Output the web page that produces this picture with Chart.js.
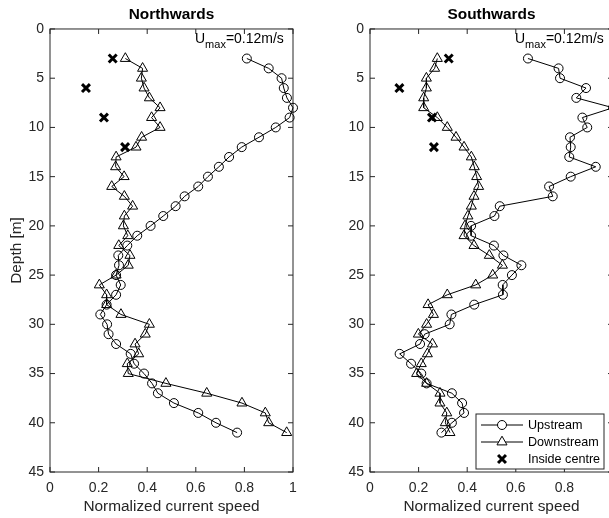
<!DOCTYPE html>
<html>
<head>
<meta charset="utf-8">
<script src="https://cdn.jsdelivr.net/npm/chart.js@4.4.1/dist/chart.umd.min.js"></script>
<style>
  html, body { margin: 0; padding: 0; background: #fff; overflow: hidden; }
  #wrap { position: relative; width: 609px; height: 518px; overflow: hidden; }
  .panel { position: absolute; top: 0; width: 320px; height: 518px; }
</style>
</head>
<body>
<div id="wrap">
  <div class="panel" style="left:0"><canvas id="north" width="320" height="518"></canvas></div>
  <div class="panel" style="left:320px"><canvas id="south" width="320" height="518"></canvas></div>
</div>
<script>
// measurement depths (m) of the up/downstream profiles
const depths = [3, 4, 5, 6, 7, 8, 9, 10, 11, 12, 13, 14, 15, 16, 17, 18, 19, 20, 21, 22,
  23, 24, 25, 26, 27, 28, 29, 30, 31, 32, 33, 34, 35, 36, 37, 38, 39, 40, 41];
const centreDepths = [3, 6, 9, 12];

// normalized speeds, northward flow
const northUp = [0.81, 0.90, 0.953, 0.962, 0.975, 1.0, 0.986, 0.929, 0.86, 0.789,
  0.737, 0.695, 0.65, 0.61, 0.554, 0.517, 0.466, 0.414, 0.359, 0.318,
  0.281, 0.284, 0.272, 0.291, 0.272, 0.233, 0.207, 0.235, 0.241, 0.272,
  0.332, 0.346, 0.387, 0.42, 0.444, 0.51, 0.61, 0.683, 0.77];
const northDown = [0.31, 0.381, 0.376, 0.387, 0.409, 0.453, 0.418, 0.453, 0.377, 0.354,
  0.272, 0.27, 0.305, 0.254, 0.306, 0.34, 0.306, 0.302, 0.32, 0.283,
  0.329, 0.322, 0.272, 0.203, 0.233, 0.233, 0.292, 0.409, 0.392, 0.35,
  0.365, 0.318, 0.322, 0.477, 0.645, 0.79, 0.886, 0.9, 0.974];
const northCentre = [0.258, 0.148, 0.222, 0.309];

// normalized speeds, southward flow
const southUp = [0.65, 0.776, 0.782, 0.889, 0.849, 1.0, 0.874, 0.894, 0.823, 0.826,
  0.82, 0.929, 0.826, 0.737, 0.752, 0.534, 0.512, 0.416, 0.416, 0.51,
  0.549, 0.623, 0.584, 0.546, 0.547, 0.429, 0.335, 0.328, 0.225, 0.206,
  0.122, 0.169, 0.211, 0.233, 0.337, 0.379, 0.387, 0.337, 0.294];
const southDown = [0.277, 0.266, 0.232, 0.232, 0.221, 0.221, 0.277, 0.318, 0.354, 0.387,
  0.417, 0.429, 0.439, 0.447, 0.428, 0.417, 0.403, 0.391, 0.387, 0.428,
  0.491, 0.545, 0.505, 0.435, 0.318, 0.239, 0.261, 0.233, 0.199, 0.257,
  0.236, 0.211, 0.192, 0.233, 0.288, 0.288, 0.316, 0.31, 0.329];
const southCentre = [0.324, 0.121, 0.255, 0.263];

const FONT = "'Liberation Sans', Arial, Helvetica, sans-serif";
Chart.defaults.font.family = FONT;
const AXIS = '#262626';

// boxed axes with inward ticks on all four sides
const frame = {
  id: 'frame',
  beforeDatasetsDraw(chart) {
    const { ctx, chartArea: a, scales: { x, y } } = chart;
    ctx.save();
    ctx.strokeStyle = AXIS;
    ctx.lineWidth = 1;
    ctx.strokeRect(a.left, a.top, a.right - a.left, a.bottom - a.top);
    ctx.beginPath();
    x.ticks.forEach(t => {
      const p = x.getPixelForValue(t.value);
      ctx.moveTo(p, a.bottom); ctx.lineTo(p, a.bottom - 5);
      ctx.moveTo(p, a.top); ctx.lineTo(p, a.top + 5);
    });
    y.ticks.forEach(t => {
      const p = y.getPixelForValue(t.value);
      ctx.moveTo(a.left, p); ctx.lineTo(a.left + 5, p);
      ctx.moveTo(a.right, p); ctx.lineTo(a.right - 5, p);
    });
    ctx.stroke();
    ctx.restore();
  }
};

// "U_max=0.12m/s" in the top right corner
const umaxNote = {
  id: 'umaxNote',
  afterDraw(chart) {
    const { ctx, chartArea: a } = chart;
    let x = a.right - 98;
    const base = a.top + 14;
    ctx.save();
    ctx.fillStyle = '#000';
    ctx.textBaseline = 'alphabetic';
    ctx.font = '14px ' + FONT;
    ctx.fillText('U', x, base);
    x += ctx.measureText('U').width;
    ctx.font = '11px ' + FONT;
    ctx.fillText('max', x, base + 5);
    x += ctx.measureText('max').width;
    ctx.font = '14px ' + FONT;
    ctx.fillText('=0.12m/s', x, base);
    ctx.restore();
  }
};

// legend box inside the lower right of the plot
const boxLegend = {
  id: 'boxLegend',
  afterDraw(chart, args, opts) {
    if (!opts.show) return;
    const { ctx, chartArea: a } = chart;
    const w = 128, h = 55;
    const left = a.right - 9 - w, top = a.bottom - 3 - h;
    ctx.save();
    ctx.fillStyle = '#fff';
    ctx.fillRect(left, top, w, h);
    ctx.strokeStyle = AXIS;
    ctx.lineWidth = 1;
    ctx.strokeRect(left, top, w, h);
    chart.data.datasets.forEach((ds, i) => {
      const cy = top + 11 + i * 17;
      ctx.strokeStyle = '#000';
      if (ds.showLine) {
        ctx.lineWidth = 1;
        ctx.beginPath();
        ctx.moveTo(left + 5, cy);
        ctx.lineTo(left + 47, cy);
        ctx.stroke();
      }
      ctx.fillStyle = '#fff';
      ctx.lineWidth = ds.pointBorderWidth;
      Chart.helpers.drawPoint(ctx, {
        pointStyle: ds.pointStyle, radius: ds.pointRadius, rotation: 0, borderWidth: ds.pointBorderWidth
      }, left + 26, cy);
      ctx.fillStyle = '#000';
      ctx.font = '12.6px ' + FONT;
      ctx.textBaseline = 'middle';
      ctx.fillText(ds.label, left + 52, cy + 0.5);
    });
    ctx.restore();
  }
};

function profile(values, ys) {
  return ys.map((d, i) => ({ x: values[i], y: d }));
}

// 0, 0.2 ... 1 without trailing zeros
function plainTick(v) {
  return String(Number(v.toFixed(2)));
}

function makePanel(id, title, up, down, centre, withYTitle, withLegend) {
  return new Chart(document.getElementById(id), {
    type: 'scatter',
    data: {
      datasets: [
        {
          label: 'Upstream', data: profile(up, depths), showLine: true,
          borderColor: '#000', borderWidth: 1, pointStyle: 'circle', pointRadius: 4.5,
          pointBorderWidth: 1, pointBorderColor: '#000', pointBackgroundColor: 'rgba(0,0,0,0)', clip: false
        },
        {
          label: 'Downstream', data: profile(down, depths), showLine: true,
          borderColor: '#000', borderWidth: 1, pointStyle: 'triangle', pointRadius: 5.8,
          pointBorderWidth: 1, pointBorderColor: '#000', pointBackgroundColor: 'rgba(0,0,0,0)', clip: false
        },
        {
          label: 'Inside centre', data: profile(centre, centreDepths), showLine: false,
          pointStyle: 'crossRot', pointRadius: 5.6, pointBorderWidth: 3,
          pointBorderColor: '#000', pointBackgroundColor: '#000', clip: false
        }
      ]
    },
    options: {
      responsive: false,
      animation: false,
      events: [],
      layout: { padding: { left: 0, right: 27, top: 0, bottom: 0 } },
      scales: {
        x: {
          type: 'linear', min: 0, max: 1,
          ticks: { stepSize: 0.2, padding: 8, color: AXIS, font: { size: 14 }, callback: plainTick },
          grid: { display: false, drawTicks: false },
          border: { display: false },
          title: {
            display: true, text: 'Normalized current speed', color: AXIS,
            font: { size: 15.4 }, padding: { top: 0, bottom: 2 }
          },
          afterFit(s) { s.height = 46; }
        },
        y: {
          type: 'linear', reverse: true, min: 0, max: 45,
          ticks: { stepSize: 5, padding: 6, color: AXIS, font: { size: 14 } },
          grid: { display: false, drawTicks: false },
          border: { display: false },
          title: {
            display: withYTitle, text: 'Depth [m]', color: AXIS,
            font: { size: 15.4 }, padding: { top: 8, bottom: 0 }
          },
          afterFit(s) { s.width = 50; }
        }
      },
      plugins: {
        legend: { display: false },
        tooltip: { enabled: false },
        title: {
          display: true, text: title, fullSize: false, color: '#000',
          font: { size: 15.4, weight: 'bold' }, padding: { top: 6, bottom: 4.5 }
        },
        boxLegend: { show: withLegend }
      }
    },
    plugins: [frame, umaxNote, boxLegend]
  });
}

makePanel('north', 'Northwards', northUp, northDown, northCentre, true, false);
makePanel('south', 'Southwards', southUp, southDown, southCentre, false, true);
</script>
</body>
</html>
